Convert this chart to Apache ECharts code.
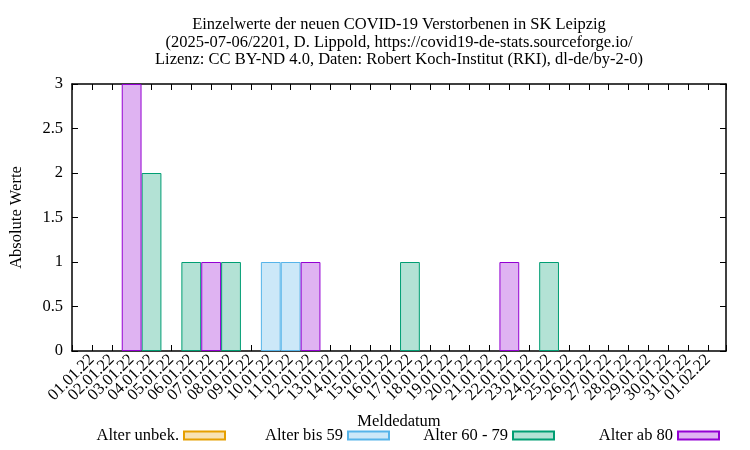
<!DOCTYPE html>
<html>
<head>
<meta charset="utf-8">
<script src="https://cdn.jsdelivr.net/npm/echarts@6/dist/echarts.min.js"></script>
<style>html,body{margin:0;padding:0;background:#fff}#chart{width:750px;height:450px}</style>
</head>
<body>
<div id="chart"></div>
<script>
const categories = ['01.01.22','02.01.22','03.01.22','04.01.22','05.01.22','06.01.22','07.01.22','08.01.22','09.01.22','10.01.22','11.01.22','12.01.22','13.01.22','14.01.22','15.01.22','16.01.22','17.01.22','18.01.22','19.01.22','20.01.22','21.01.22','22.01.22','23.01.22','24.01.22','25.01.22','26.01.22','27.01.22','28.01.22','29.01.22','30.01.22','31.01.22','01.02.22'];
const seriesNames = ['Alter unbek.', 'Alter bis 59', 'Alter 60 - 79', 'Alter ab 80'];
const alterUnbek = [0,0,0,0,0,0,0,0,0,0,0,0,0,0,0,0,0,0,0,0,0,0,0,0,0,0,0,0,0,0,0,0];
const alterBis59 = [0,0,0,0,0,0,0,0,0,1,1,0,0,0,0,0,0,0,0,0,0,0,0,0,0,0,0,0,0,0,0,0];
const alter60bis79 = [0,0,0,2,0,1,0,1,0,0,0,0,0,0,0,0,1,0,0,0,0,0,0,1,0,0,0,0,0,0,0,0];
const alterAb80 = [0,0,3,0,0,0,1,0,0,0,0,1,0,0,0,0,0,0,0,0,0,1,0,0,0,0,0,0,0,0,0,0];
const yTicks = [0, 0.5, 1, 1.5, 2, 2.5, 3];

const fills = ['#f8e2b3', '#cce8f8', '#b3e2d5', '#dfb3f2'];
const borders = ['#e69f00', '#56b4e9', '#009e73', '#9400d3'];
const allData = [alterUnbek, alterBis59, alter60bis79, alterAb80];
const FONT = 'Liberation Serif';
const FS = 16.5;
const xMin = -1, xMax = 31.9;

const chart = echarts.init(document.getElementById('chart'), null, {renderer: 'canvas'});

const series = allData.map((arr, k) => ({
  name: seriesNames[k],
  type: 'bar',
  stack: 'total',
  barWidth: 19.8,
  xAxisIndex: 0,
  yAxisIndex: 0,
  itemStyle: {color: fills[k], borderColor: borders[k], borderWidth: 1},
  emphasis: {disabled: true},
  data: arr.map((v, i) => [i, v === 0 ? '-' : v])
}));

const legendRights = [524, 360, 195, 30];
const legends = seriesNames.map((n, k) => ({
  data: [n],
  right: legendRights[k],
  top: 427,
  padding: 0,
  align: 'right',
  itemWidth: 41,
  itemHeight: 8,
  itemGap: 0,
  icon: 'rect',
  selectedMode: false,
  textStyle: {fontFamily: FONT, fontSize: FS, color: '#000'}
}));

const catFmt = v => (Number.isInteger(v) && v >= 0 && v < categories.length) ? categories[v] : '';

chart.setOption({
  animation: false,
  backgroundColor: '#fff',
  title: {
    text: 'Einzelwerte der neuen COVID-19 Verstorbenen in SK Leipzig\n(2025-07-06/2201, D. Lippold, https://covid19-de-stats.sourceforge.io/\nLizenz: CC BY-ND 4.0, Daten: Robert Koch-Institut (RKI), dl-de/by-2-0)',
    left: 399,
    top: 16,
    textAlign: 'center',
    padding: 0,
    textStyle: {fontFamily: FONT, fontSize: FS, fontWeight: 'normal', color: '#000', lineHeight: 17.5}
  },
  legend: legends,
  grid: {left: 72, right: 24, top: 84, bottom: 99, containLabel: false, outerBoundsMode: 'none', show: false},
  xAxis: [{
    type: 'value', position: 'bottom', min: xMin, max: xMax, interval: 1,
    name: 'Meldedatum', nameLocation: 'middle', nameGap: 62,
    nameTextStyle: {fontFamily: FONT, fontSize: FS, color: '#000'},
    axisLine: {show: true, onZero: false, lineStyle: {color: '#000', width: 1.5}},
    axisTick: {show: true, inside: true, length: 6, lineStyle: {color: '#000', width: 1}},
    axisLabel: {show: true, rotate: 45, margin: 6, formatter: catFmt, fontFamily: FONT, fontSize: FS, color: '#000', hideOverlap: false, showMinLabel: true, showMaxLabel: true},
    splitLine: {show: false}
  }, {
    type: 'value', position: 'top', min: xMin, max: xMax, interval: 1,
    axisLine: {show: true, onZero: false, lineStyle: {color: '#000', width: 1.5}},
    axisTick: {show: true, inside: true, length: 6, lineStyle: {color: '#000', width: 1}},
    axisLabel: {show: false},
    splitLine: {show: false}
  }],
  yAxis: [{
    type: 'value', position: 'left', min: 0, max: 3, interval: 0.5,
    name: 'Absolute Werte', nameLocation: 'middle', nameGap: 47, nameRotate: 90,
    nameTextStyle: {fontFamily: FONT, fontSize: FS, color: '#000'},
    axisLine: {show: true, onZero: false, lineStyle: {color: '#000', width: 1.5}},
    axisTick: {show: true, inside: true, length: 6, lineStyle: {color: '#000', width: 1}},
    axisLabel: {show: true, margin: 9, fontFamily: FONT, fontSize: FS, color: '#000',
      formatter: v => yTicks.includes(v) ? String(v) : ''},
    splitLine: {show: false}
  }, {
    type: 'value', position: 'right', min: 0, max: 3, interval: 0.5,
    axisLine: {show: true, onZero: false, lineStyle: {color: '#000', width: 1.5}},
    axisTick: {show: true, inside: true, length: 6, lineStyle: {color: '#000', width: 1}},
    axisLabel: {show: false},
    splitLine: {show: false}
  }],
  series: series
});
</script>
</body>
</html>
